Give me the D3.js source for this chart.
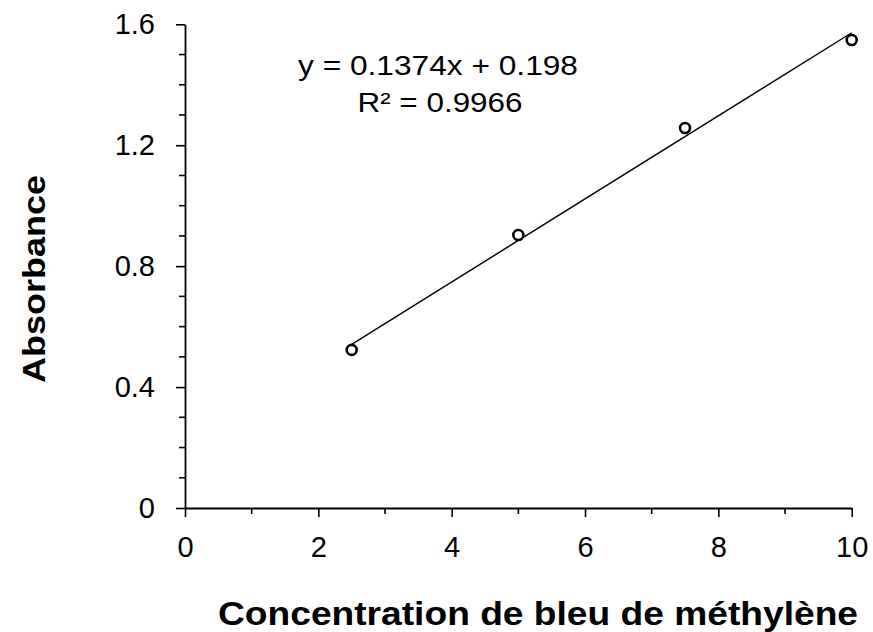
<!DOCTYPE html>
<html><head><meta charset="utf-8">
<script src="https://cdn.jsdelivr.net/npm/d3@7"></script>
<style>body{margin:0;background:#fff}svg{display:block}text{font-family:"Liberation Sans",Arial,sans-serif}</style>
</head><body>
<svg id="c" width="873" height="632"></svg>
<script>
const concentrations = [2.5, 5, 7.5, 10];
const absorbance = [0.523, 0.903, 1.257, 1.548];
const xTicks = [0, 2, 4, 6, 8, 10];
const yTicks = [0, 0.4, 0.8, 1.2, 1.6];
const slope = 0.1374, intercept = 0.198;
const eqLabel = "y = 0.1374x + 0.198";
const r2Label = "R² = 0.9966";
const xTitle = "Concentration de bleu de méthylène";
const yTitle = "Absorbance";

const svg = d3.select("#c");
const x = d3.scaleLinear().domain([0,10]).range([185, 851.7]);
const y = d3.scaleLinear().domain([0,1.6]).range([508, 24.3]);

const xMinor = d3.range(1,10,2);
const yMinor = [0.1,0.2,0.3,0.5,0.6,0.7,0.9,1.0,1.1,1.3,1.4,1.5];

const gx = svg.append("g").attr("transform","translate(0,508)");
gx.call(d3.axisBottom(x).tickValues(xTicks).tickFormat(d3.format("d")).tickSizeInner(9).tickSizeOuter(0).tickPadding(19));
gx.append("g").selectAll("line").data(xMinor).join("line")
  .attr("x1", d=>x(d)).attr("x2", d=>x(d)).attr("y1",0).attr("y2",6).attr("stroke","#000").attr("stroke-width",1.6);

const gy = svg.append("g").attr("transform","translate(185,0)");
gy.call(d3.axisLeft(y).tickValues(yTicks).tickFormat(d => d===0 ? "0" : d3.format(".1f")(d)).tickSizeInner(9).tickSizeOuter(0).tickPadding(21));
gy.append("g").selectAll("line").data(yMinor).join("line")
  .attr("y1", d=>y(d)).attr("y2", d=>y(d)).attr("x1",0).attr("x2",-6).attr("stroke","#000").attr("stroke-width",1.6);

svg.selectAll(".domain").attr("stroke","#000").attr("stroke-width",1.8);
svg.selectAll(".tick line").attr("stroke","#000").attr("stroke-width",1.6);
svg.selectAll(".tick text").attr("font-size",29).attr("fill","#000").attr("font-family","Liberation Sans, Arial, sans-serif");

// trendline
const xs = [d3.min(concentrations), d3.max(concentrations)];
svg.append("line")
  .attr("x1", x(xs[0])).attr("y1", y(slope*xs[0]+intercept))
  .attr("x2", x(xs[1])).attr("y2", y(slope*xs[1]+intercept))
  .attr("stroke","#000").attr("stroke-width",1.4);

// points
svg.append("g").selectAll("circle").data(concentrations).join("circle")
  .attr("cx", d=>x(d)).attr("cy", (d,i)=>y(absorbance[i])).attr("r",5)
  .attr("fill","#fff").attr("stroke","#000").attr("stroke-width",2.6);

// equation
svg.append("text").attr("x",438).attr("y",75).attr("text-anchor","middle").attr("font-size",27)
  .attr("textLength",280).attr("lengthAdjust","spacingAndGlyphs").text(eqLabel);
svg.append("text").attr("x",440).attr("y",112).attr("text-anchor","middle").attr("font-size",27)
  .attr("textLength",165).attr("lengthAdjust","spacingAndGlyphs").text(r2Label);

// titles
svg.append("text").attr("x",538).attr("y",625).attr("text-anchor","middle").attr("font-size",33).attr("font-weight","bold")
  .attr("textLength",640).attr("lengthAdjust","spacingAndGlyphs").text(xTitle);
svg.append("text").attr("transform","translate(45,279) rotate(-90)").attr("text-anchor","middle").attr("font-size",31).attr("font-weight","bold")
  .attr("textLength",208).attr("lengthAdjust","spacingAndGlyphs").text(yTitle);
</script>
</body></html>
